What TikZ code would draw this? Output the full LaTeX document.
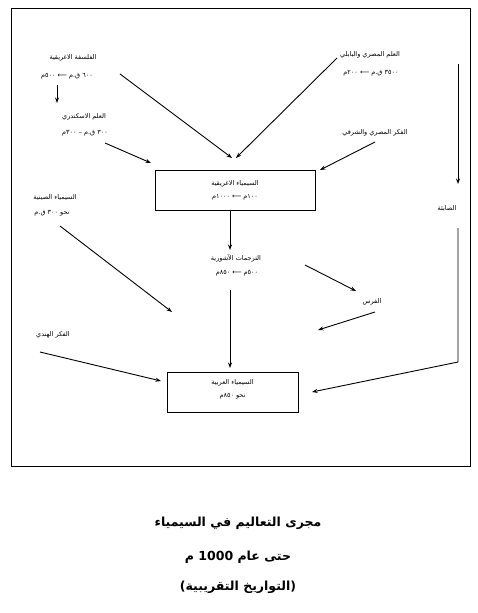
\documentclass[tikz,border=0pt]{standalone}
\usepackage{fontspec}
\usetikzlibrary{arrows.meta}
\TeXXeTstate=1
\newfontfamily\arabicfont[Script=Arabic]{DejaVu Sans}
\newcommand{\ar}[1]{{\arabicfont\beginR #1\endR}}
\tikzset{
  lbl/.style={inner sep=0pt, font=\arabicfont\fontsize{6.5}{7.5}\selectfont},
  ttl/.style={inner sep=0pt, font=\arabicfont\bfseries\fontsize{12.5}{15}\selectfont},
  boxnode/.style={draw, line width=1pt, minimum width=160pt, minimum height=40pt, inner sep=0pt},
  conn/.style={line width=0.9pt, -{Stealth[length=5.5pt,width=4pt]}},
}
\begin{document}
\begin{tikzpicture}[x=1pt,y=-1pt]
\useasboundingbox (0,0) rectangle (478,613);
% frame
\draw[line width=1pt] (11,8) rectangle (470,466);
% boxes
\node[boxnode] (greekalc) at (235,190) {};
\node[boxnode, minimum width=131pt] (arabalc) at (232.5,392) {};
% labels
\node[lbl] (greekphil) at (73,58) {\ar{الفلسفة الاغريقية}};
\node[lbl] (greekphild) at (67,76) {\ar{٦٠٠ ق.م ⟵ ٥٠٠م}};
\node[lbl] (alexsci) at (84,117) {\ar{العلم الاسكندري}};
\node[lbl] (alexscid) at (85,133) {\ar{٣٠٠ ق.م – ٣٠٠م}};
\node[lbl] (egbab) at (370,55) {\ar{العلم المصري والبابلي}};
\node[lbl] (egbabd) at (371,73) {\ar{٣٥٠٠ ق.م ⟵ ٢٠٠م}};
\node[lbl] (egor) at (375,133) {\ar{الفكر المصري والشرقي}};
\node[lbl] (sabians) at (447,209) {\ar{الصابئة}};
\node[lbl] (chinese) at (55,198) {\ar{السيمياء الصينية}};
\node[lbl] (chinesed) at (52,213) {\ar{نحو ٣٠٠ ق.م}};
\node[lbl] (indian) at (53,335) {\ar{الفكر الهندي}};
\node[lbl] (assyr) at (236,258) {\ar{الترجمات الآشورية}};
\node[lbl] (assyrd) at (237,273) {\ar{٥٠٠م ⟵ ٨٥٠م}};
\node[lbl] (persians) at (372,302) {\ar{الفرس}};
\node[lbl] (greekalct) at (235,184) {\ar{السيمياء الاغريقية}};
\node[lbl] (greekalcd) at (235,197) {\ar{١٠٠م ⟵ ١٠٠٠م}};
\node[lbl] (arabalct) at (232.5,383) {\ar{السيمياء العربية}};
\node[lbl] (arabalcd) at (232.5,396) {\ar{نحو ٨٥٠م}};
% title
\node[ttl] (t1) at (238,523) {\ar{مجرى التعاليم في السيمياء}};
\node[ttl] (t2) at (238,557) {\ar{حتى عام 1000 م}};
\node[ttl] (t3) at (238,587) {\ar{(التواريخ التقريبية)}};
% coordinates
\coordinate (gp0) at (57,85);
\coordinate (gp1) at (57,103);
\coordinate (gpa) at (120,74);
\coordinate (gpb) at (232,158);
\coordinate (eba) at (337,58);
\coordinate (ebb) at (236,158);
\coordinate (ala) at (105,143);
\coordinate (alb) at (151,163);
\coordinate (eoa) at (375,142);
\coordinate (eob) at (320,170);
\coordinate (asa) at (230,211);
\coordinate (asb) at (230,250);
\coordinate (asc) at (230,290);
\coordinate (asd) at (230,368);
\coordinate (pea) at (305,265);
\coordinate (peb) at (356,291);
\coordinate (pec) at (375,312);
\coordinate (ped) at (318,330);
\coordinate (cha) at (60,226);
\coordinate (chb) at (172,312);
\coordinate (ina) at (40,352);
\coordinate (inb) at (161,381);
\coordinate (saa) at (458,64);
\coordinate (sab) at (458,184);
\coordinate (sac) at (458,228);
\coordinate (sad) at (458,362);
\coordinate (sae) at (312,392);
% connectors
\draw[conn] (gp0) -- (gp1);
\draw[conn] (gpa) -- (gpb);
\draw[conn] (eba) -- (ebb);
\draw[conn] (ala) -- (alb);
\draw[conn] (eoa) -- (eob);
\draw[conn] (asa) -- (asb);
\draw[conn] (asc) -- (asd);
\draw[conn] (pea) -- (peb);
\draw[conn] (pec) -- (ped);
\draw[conn] (cha) -- (chb);
\draw[conn] (ina) -- (inb);
\draw[conn] (saa) -- (sab);
\draw[conn] (sac) -- (sad) -- (sae);
\end{tikzpicture}
\end{document}
